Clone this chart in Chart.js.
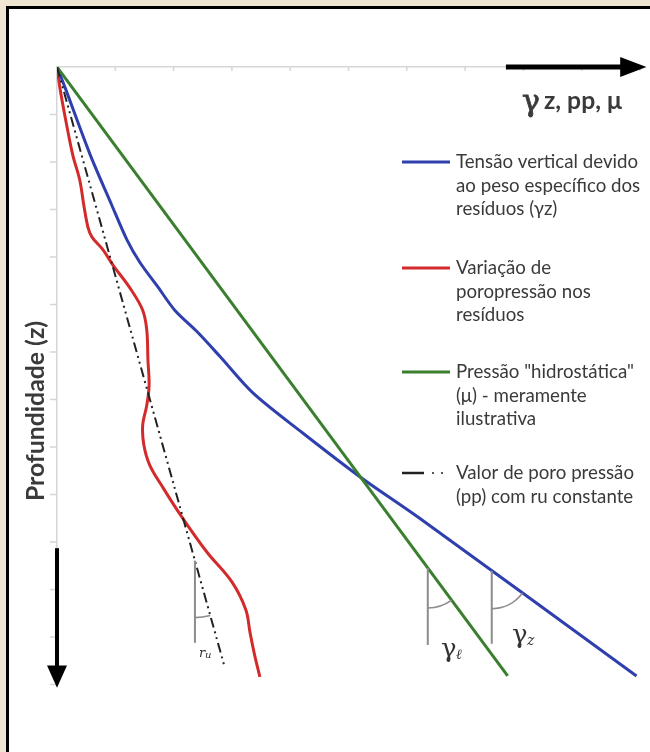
<!DOCTYPE html>
<html>
<head>
<meta charset="utf-8">
<script src="https://cdn.jsdelivr.net/npm/chart.js@4.4.1/dist/chart.umd.min.js"></script>
<style>
  html, body { margin: 0; padding: 0; background: #efe6d1; }
  #wrap { width: 650px; height: 752px; position: relative; }
  canvas { display: block; }
</style>
</head>
<body>
<div id="wrap"><canvas id="c" width="650" height="752"></canvas></div>
<script>
// ---- data (axis units: one tick step each) ----
const xTickValues = [0, 1, 2, 3, 4, 5, 6, 7, 8, 9, 10];
const yTickValues = [0, 1, 2, 3, 4, 5, 6, 7, 8, 9, 10, 11, 12, 13];

// Tensão vertical devido ao peso específico dos resíduos (γz)
const serieGammaZ = [
  [0, 0], [0.14, 0.44], [0.57, 1.85], [0.94, 2.91], [1.20, 3.64], [1.42, 4.11],
  [1.73, 4.63], [2.02, 5.12], [2.40, 5.57], [2.80, 6.10], [3.36, 6.86],
  [4.22, 7.71], [5.20, 8.63], [6.22, 9.50], [9.94, 12.82]
];
// Variação de poropressão nos resíduos
const seriePoropressao = [
  [0, 0], [0.05, 0.44], [0.15, 1.12], [0.27, 1.85], [0.39, 2.38], [0.46, 2.91],
  [0.53, 3.37], [0.60, 3.58], [0.79, 3.85], [0.96, 4.17], [1.25, 4.65],
  [1.47, 5.12], [1.54, 5.54], [1.56, 6.17], [1.58, 6.70], [1.54, 7.12],
  [1.47, 7.54], [1.49, 7.96], [1.59, 8.38], [1.82, 8.86], [2.14, 9.47],
  [2.57, 10.21], [3.00, 10.84], [3.24, 11.43], [3.31, 11.90], [3.39, 12.38],
  [3.48, 12.84]
];
// Pressão "hidrostática" (μ)
const serieHidrostatica = [[0, 0], [7.73, 12.82]];
// Valor de poro pressão (pp) com ru constante
const serieRuConstante = [[0, 0], [2.88, 12.65]];

const legendLabels = [
  ["Tensão vertical devido", "ao peso específico dos", "resíduos (γz)"],
  ["Variação de", "poropressão nos", "resíduos"],
  ["Pressão \"hidrostática\"", "(μ) - meramente", "ilustrativa"],
  ["Valor de poro pressão", "(pp) com ru constante"]
];
const axisTitleX = "z, pp, μ";
const axisTitleY = "Profundidade (z)";

const COL_BLUE = '#2f3fae';
const COL_RED = '#d32b2b';
const COL_GREEN = '#3a7f2e';
const COL_DASH = '#222222';
const TEXT = '#3a3a3a';

const pts = a => a.map(p => ({x: p[0], y: p[1]}));

function yOnSeries(series, x) {
  for (let i = 0; i < series.length - 1; i++) {
    const a = series[i], b = series[i + 1];
    if ((x >= a[0] && x <= b[0]) || (x <= a[0] && x >= b[0])) {
      const t = (x - a[0]) / (b[0] - a[0]);
      return a[1] + t * (b[1] - a[1]);
    }
  }
  return series[series.length - 1][1];
}

const decor = {
  id: 'decor',
  beforeDraw(chart) {
    const ctx = chart.ctx;
    ctx.save();
    ctx.fillStyle = '#efe6d1';
    ctx.fillRect(0, 0, chart.width, chart.height);
    ctx.fillStyle = '#000';
    ctx.fillRect(6, 6, chart.width, chart.height);
    ctx.fillStyle = '#ffffff';
    ctx.fillRect(9, 9, chart.width, chart.height);
    ctx.restore();
  },
  beforeDatasetsDraw(chart) {
    const ctx = chart.ctx, xs = chart.scales.x, ys = chart.scales.y;
    ctx.save();
    ctx.strokeStyle = '#d6d6d6';
    ctx.lineWidth = 1.5;
    const y0 = ys.getPixelForValue(0), x0 = xs.getPixelForValue(0);
    xTickValues.slice(1).forEach(v => {
      const px = xs.getPixelForValue(v);
      ctx.beginPath(); ctx.moveTo(px, y0); ctx.lineTo(px, y0 + 4); ctx.stroke();
    });
    yTickValues.slice(1).forEach(v => {
      const py = ys.getPixelForValue(v);
      ctx.beginPath(); ctx.moveTo(x0 - 7, py); ctx.lineTo(x0, py); ctx.stroke();
    });
    ctx.restore();
  },
  afterDraw(chart) {
    const ctx = chart.ctx, xs = chart.scales.x, ys = chart.scales.y;
    const X = v => xs.getPixelForValue(v), Y = v => ys.getPixelForValue(v);
    ctx.save();
    // arrows
    ctx.fillStyle = '#000'; ctx.strokeStyle = '#000';
    const ay = Y(0);
    ctx.lineWidth = 5;
    ctx.beginPath(); ctx.moveTo(X(7.70), ay); ctx.lineTo(X(9.8), ay); ctx.stroke();
    ctx.beginPath();
    ctx.moveTo(X(9.66), ay - 10); ctx.lineTo(X(10.11), ay); ctx.lineTo(X(9.66), ay + 10);
    ctx.closePath(); ctx.fill();
    const ax = X(0);
    ctx.lineWidth = 4;
    ctx.beginPath(); ctx.moveTo(ax, Y(10.13)); ctx.lineTo(ax, Y(12.7)); ctx.stroke();
    ctx.beginPath();
    ctx.moveTo(ax - 10, Y(12.6)); ctx.lineTo(ax, Y(13.07)); ctx.lineTo(ax + 10, Y(12.6));
    ctx.closePath(); ctx.fill();

    // x axis title
    ctx.fillStyle = TEXT;
    ctx.textBaseline = 'alphabetic';
    ctx.font = '30px "DejaVu Serif", "Liberation Serif", serif';
    ctx.textAlign = 'left';
    ctx.lineWidth = 0.8; ctx.strokeStyle = TEXT;
    ctx.fillText('γ', 522, 111);
    ctx.strokeText('γ', 522, 111);
    let xf = 18;
    ctx.font = 'bold ' + xf + 'px Lato, "Open Sans", sans-serif';
    xf = xf * 78 / ctx.measureText(axisTitleX).width;
    ctx.font = 'bold ' + xf.toFixed(1) + 'px Lato, "Open Sans", sans-serif';
    ctx.fillText(axisTitleX, 544, 109);

    // y axis title
    ctx.save();
    ctx.translate(36, 411);
    ctx.rotate(-Math.PI / 2);
    ctx.textAlign = 'center'; ctx.textBaseline = 'middle';
    let fs = 17;
    ctx.font = 'bold ' + fs + 'px Lato, "Open Sans", sans-serif';
    fs = fs * 180 / ctx.measureText(axisTitleY).width;
    ctx.font = 'bold ' + fs.toFixed(1) + 'px Lato, "Open Sans", sans-serif';
    ctx.fillText(axisTitleY, 0, 0);
    ctx.restore();

    // legend
    let lf = 16;
    ctx.font = lf + 'px Lato, "Open Sans", sans-serif';
    lf = lf * 182 / ctx.measureText(legendLabels[0][0]).width;
    ctx.font = lf.toFixed(1) + 'px Lato, "Open Sans", sans-serif';
    const itemY = [162, 268, 372, 473];
    const cols = [COL_BLUE, COL_RED, COL_GREEN, COL_DASH];
    ctx.textAlign = 'left'; ctx.textBaseline = 'middle';
    legendLabels.forEach((lines, i) => {
      const yy = itemY[i];
      ctx.strokeStyle = cols[i];
      ctx.lineWidth = 3;
      if (i === 3) {
        ctx.lineWidth = 2.5;
        ctx.beginPath(); ctx.moveTo(402, yy); ctx.lineTo(424, yy); ctx.stroke();
        ctx.fillStyle = '#555';
        ctx.fillRect(432, yy - 1, 2, 2); ctx.fillRect(441, yy - 1, 2, 2);
      } else {
        ctx.beginPath(); ctx.moveTo(402, yy); ctx.lineTo(450, yy); ctx.stroke();
      }
      ctx.fillStyle = TEXT;
      lines.forEach((t, k) => ctx.fillText(t, 456, yy + k * 23.5));
    });

    // angle annotations
    const ann = [
      {series: serieRuConstante, xv: 2.366, len: 1.73, r: 57, lab: 'r', sub: 'u', lx: 199, ly: 657},
      {series: serieHidrostatica, xv: 6.36, len: 1.62, r: 40, lab: 'γ', sub: 'ℓ', lx: 441, ly: 657},
      {series: serieGammaZ, xv: 7.457, len: 1.54, r: 38, lab: 'γ', sub: 'z', lx: 512, ly: 643}
    ];
    ann.forEach(a => {
      const yv = yOnSeries(a.series, a.xv);
      const vx = X(a.xv), vy = Y(yv);
      const vx2 = X(a.xv + 0.3), vy2 = Y(yOnSeries(a.series, a.xv + 0.3));
      const ang = Math.atan2(vy2 - vy, vx2 - vx);
      ctx.strokeStyle = '#8c8c8c';
      ctx.lineWidth = 2;
      ctx.beginPath(); ctx.moveTo(vx, vy); ctx.lineTo(vx, Y(yv + a.len)); ctx.stroke();
      ctx.lineWidth = 1.6;
      ctx.beginPath(); ctx.arc(vx, vy, a.r, ang, Math.PI / 2); ctx.stroke();
      ctx.fillStyle = '#333';
      ctx.textBaseline = 'alphabetic';
      if (a.lab === 'r') {
        ctx.font = 'italic 13px "DejaVu Serif", serif';
        ctx.fillText(a.lab, a.lx, a.ly);
        ctx.font = 'italic 10px "DejaVu Serif", serif';
        ctx.fillText(a.sub, a.lx + 6, a.ly + 1);
      } else {
        ctx.font = '26px "DejaVu Serif", serif';
        ctx.fillText(a.lab, a.lx, a.ly);
        ctx.font = 'italic 14px "DejaVu Serif", serif';
        ctx.fillText(a.sub, a.lx + 15, a.ly + 2);
      }
    });
    ctx.restore();
  }
};

const ds = (data, color, w, dash, tension) => ({
  data: pts(data), showLine: true, borderColor: color, backgroundColor: color,
  borderWidth: w, borderDash: dash || [], pointRadius: 0, pointHoverRadius: 0,
  tension: tension || 0, fill: false, borderCapStyle: 'butt'
});

new Chart(document.getElementById('c'), {
  type: 'scatter',
  data: {
    datasets: [
      ds(serieRuConstante, COL_DASH, 2, [10, 4, 2, 4, 2, 4]),
      ds(serieHidrostatica, COL_GREEN, 3),
      ds(serieGammaZ, COL_BLUE, 3, null, 0.3),
      ds(seriePoropressao, COL_RED, 3, null, 0.35)
    ]
  },
  options: {
    responsive: false,
    animation: false,
    events: [],
    layout: { padding: { left: 57, top: 67, right: 10, bottom: 67.5 } },
    plugins: { legend: { display: false }, tooltip: { enabled: false } },
    scales: {
      x: {
        type: 'linear', position: 'top', min: 0, max: 10,
        ticks: { display: false },
        grid: { drawOnChartArea: false, drawTicks: false },
        border: { display: true, color: '#d6d6d6', width: 1.5 },
        afterFit: s => { s.height = 0; }
      },
      y: {
        type: 'linear', position: 'left', min: 0, max: 13, reverse: true,
        ticks: { display: false },
        grid: { drawOnChartArea: false, drawTicks: false },
        border: { display: true, color: '#d6d6d6', width: 1.5 },
        afterFit: s => { s.width = 0; }
      }
    }
  },
  plugins: [decor]
});
</script>
</body>
</html>
